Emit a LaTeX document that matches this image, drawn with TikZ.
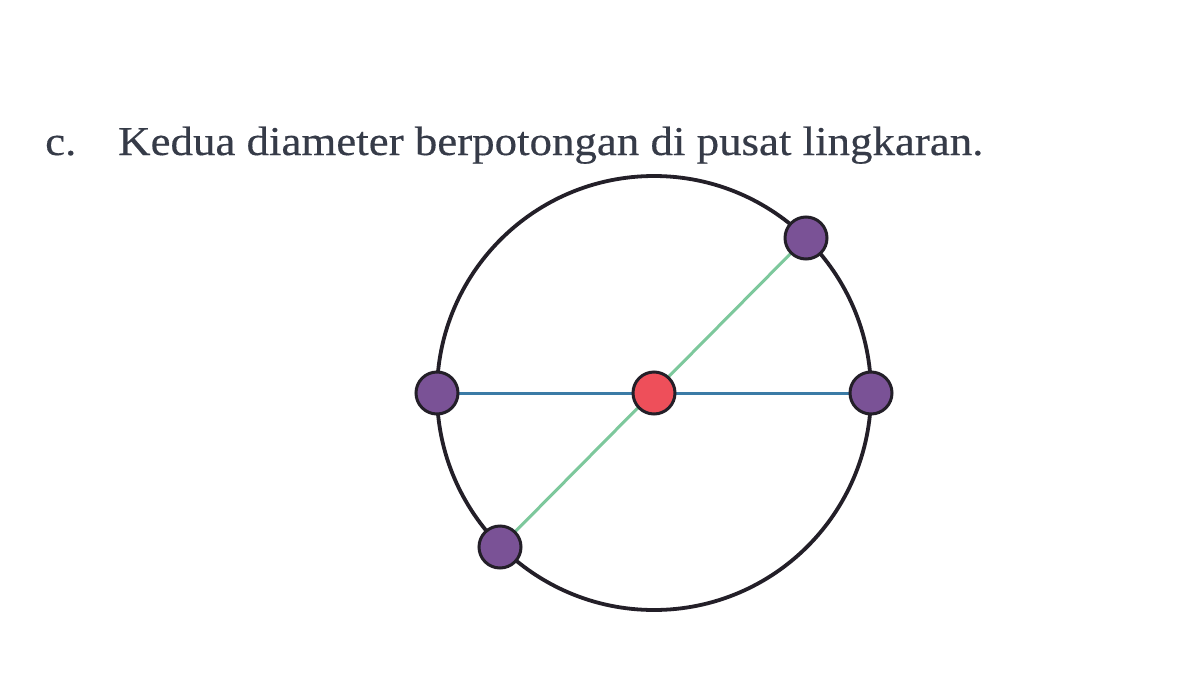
\documentclass[tikz,border=0pt]{standalone}
\usepackage{fontspec}
\setmainfont[FakeStretch=1.095,FakeBold=0.4]{Liberation Serif}
\definecolor{txt}{HTML}{363B48}
\definecolor{purp}{HTML}{7A5296}
\definecolor{redd}{HTML}{EE4F5A}
\definecolor{grn}{HTML}{7DC89C}
\definecolor{blu}{HTML}{3B7BA6}
\definecolor{edge}{HTML}{231F28}
\begin{document}
\begin{tikzpicture}[x=1pt,y=-1pt,
  pt/.style={circle,draw=edge,line width=3pt,minimum size=42pt,inner sep=0pt},
  lbl/.style={anchor=base west,text=txt,inner sep=0pt,font=\fontsize{41}{44}\selectfont}]
\useasboundingbox[fill=white] (0,0) rectangle (1200,675);
\node[lbl] (c) at (45,155) {c.};
\node[lbl] (t) at (118,155) {Kedua diameter berpotongan di pusat lingkaran.};
\coordinate (O) at (654,393);
\draw[edge,line width=3.8pt] (O) circle (217);
\coordinate (L) at (437,393);
\coordinate (R) at (871,393);
\coordinate (A) at (806,238);
\coordinate (B) at (500,547);
\draw[blu,line width=3pt] (L) -- (R);
\draw[grn,line width=3pt] (B) -- (A);
\node[pt,fill=purp] (l) at (L) {};
\node[pt,fill=purp] (r) at (R) {};
\node[pt,fill=purp] (a) at (A) {};
\node[pt,fill=purp] (b) at (B) {};
\node[pt,fill=redd] (o) at (O) {};
\end{tikzpicture}
\end{document}
